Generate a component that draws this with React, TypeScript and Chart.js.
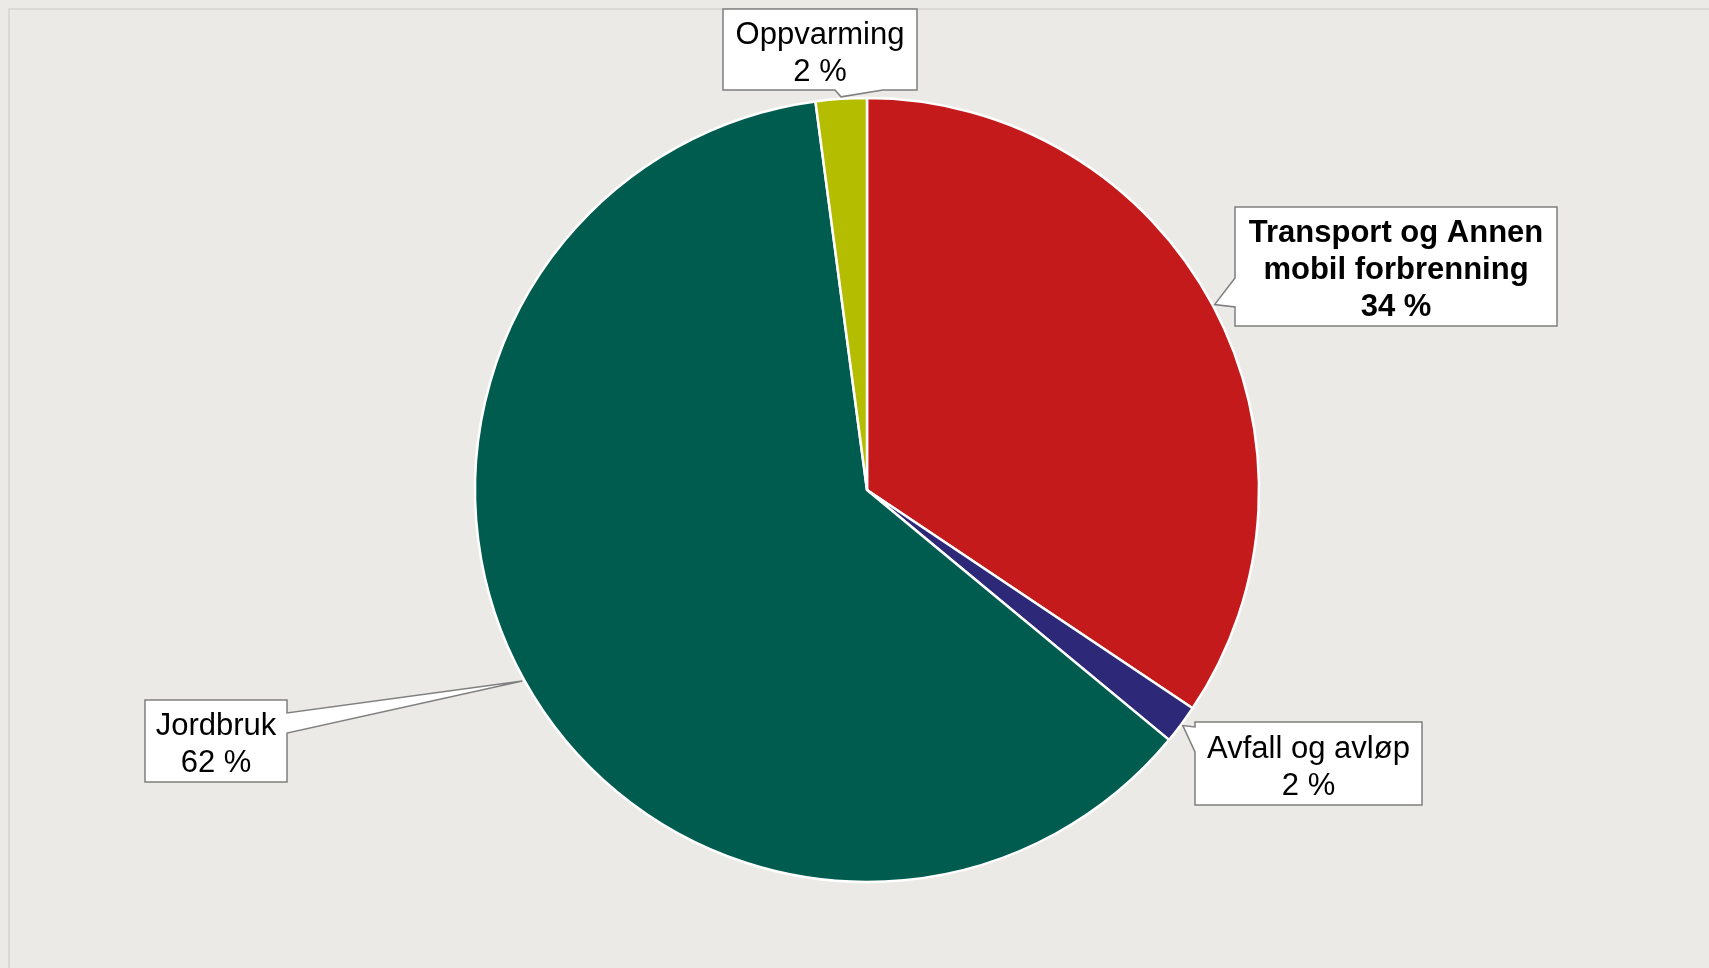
import React, { useEffect, useRef } from "react";
import { Chart, registerables } from "chart.js";

Chart.register(...registerables);

// ---- data ----
const categories = ["Transport og Annen mobil forbrenning", "Avfall og avløp", "Jordbruk", "Oppvarming"];
const shares = [34.4, 1.6, 61.9, 2.1];
const percentLabels = ["34 %", "2 %", "62 %", "2 %"];
const labelLines = [["Transport og Annen", "mobil forbrenning"], ["Avfall og avløp"], ["Jordbruk"], ["Oppvarming"]];
const sliceColors = ["#C51A1B", "#2D2878", "#005C4F", "#B5BD00"];

// ---- callout layout (box x, y, w, h; wedge side and base offsets along that side) ----
const calloutLayout = [
  { box: [1235, 207, 322, 119], side: "left", base: [71, 100], bold: true },
  { box: [1195, 722, 227, 83], side: "left", base: [5, 30], bold: false },
  { box: [145, 700, 142, 82], side: "right", base: [13, 33], bold: false },
  { box: [723, 9, 194, 81], side: "bottom", base: [112, 160], bold: false },
];

const W = 1709;
const H = 968;
const BG = "#EBEAE6";

const calloutPlugin = {
  id: "callouts",
  afterDraw(chart: any) {
    const ctx = chart.ctx as CanvasRenderingContext2D;
    const meta = chart.getDatasetMeta(0);
    meta.data.forEach((arc: any, i: number) => {
      const lay = calloutLayout[i];
      if (!lay) return;
      const p = arc.getProps(["x", "y", "startAngle", "endAngle", "outerRadius"], true);
      const mid = (p.startAngle + p.endAngle) / 2;
      const tx = p.x + Math.cos(mid) * (p.outerRadius + 2);
      const ty = p.y + Math.sin(mid) * (p.outerRadius + 2);
      const [bx, by, bw, bh] = lay.box;
      const [b1, b2] = lay.base;
      ctx.save();
      ctx.beginPath();
      ctx.moveTo(bx, by);
      ctx.lineTo(bx + bw, by);
      if (lay.side === "right") {
        ctx.lineTo(bx + bw, by + b1);
        ctx.lineTo(tx, ty);
        ctx.lineTo(bx + bw, by + b2);
      }
      ctx.lineTo(bx + bw, by + bh);
      if (lay.side === "bottom") {
        ctx.lineTo(bx + b2, by + bh);
        ctx.lineTo(tx, ty);
        ctx.lineTo(bx + b1, by + bh);
      }
      ctx.lineTo(bx, by + bh);
      if (lay.side === "left") {
        ctx.lineTo(bx, by + b2);
        ctx.lineTo(tx, ty);
        ctx.lineTo(bx, by + b1);
      }
      ctx.closePath();
      ctx.fillStyle = "#FFFFFF";
      ctx.fill();
      ctx.lineWidth = 1.5;
      ctx.strokeStyle = "#7F7F7F";
      ctx.lineJoin = "miter";
      ctx.stroke();

      const lines = [...labelLines[i], percentLabels[i]];
      ctx.fillStyle = "#000000";
      ctx.font = `${lay.bold ? "bold " : ""}31px "Liberation Sans", Arial, sans-serif`;
      ctx.textAlign = "center";
      ctx.textBaseline = "middle";
      const lh = 37;
      const cx = bx + bw / 2;
      const cy = by + bh / 2;
      lines.forEach((t, k) => {
        ctx.fillText(t, cx, cy + (k - (lines.length - 1) / 2) * lh + 4);
      });
      ctx.restore();
    });
  },
};

export default function App() {
  const ref = useRef<HTMLCanvasElement | null>(null);
  useEffect(() => {
    if (!ref.current) return;
    const chart = new Chart(ref.current, {
      type: "pie",
      data: {
        labels: categories,
        datasets: [
          {
            data: shares,
            backgroundColor: sliceColors,
            borderColor: "#FFFFFF",
            borderWidth: 2.5,
          },
        ],
      },
      options: {
        responsive: false,
        animation: false,
        devicePixelRatio: 1,
        radius: 392,
        layout: { padding: { left: 475, right: 450, top: 98, bottom: 86 } },
        plugins: {
          legend: { display: false },
          tooltip: { enabled: false },
        },
      } as any,
      plugins: [calloutPlugin],
    });
    return () => chart.destroy();
  }, []);

  return (
    <div style={{ position: "fixed", left: 0, top: 0, width: W, height: H, background: BG, overflow: "hidden" }}>
      <div
        style={{
          position: "absolute",
          left: 8,
          top: 8,
          width: W + 40,
          height: H + 40,
          border: "2px solid #DAD9D6",
          boxSizing: "border-box",
        }}
      />
      <canvas ref={ref} width={W} height={H} style={{ position: "absolute", left: 0, top: 0, display: "block" }} />
    </div>
  );
}
